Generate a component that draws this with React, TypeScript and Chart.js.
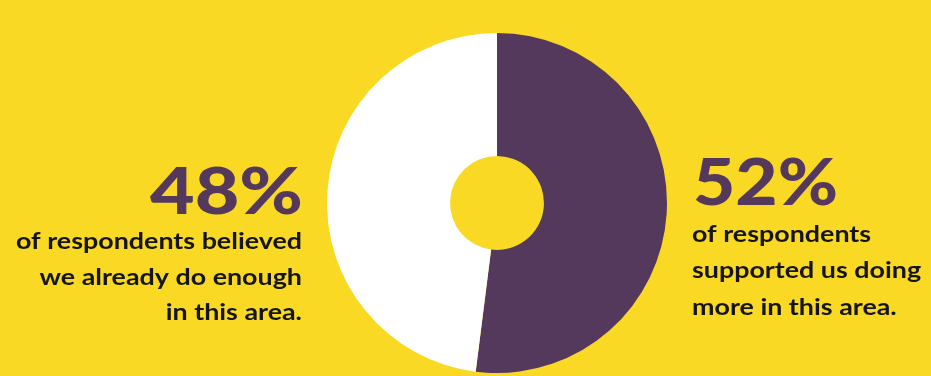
import React, { useEffect, useRef } from "react";
import { Chart, registerables } from "chart.js";

Chart.register(...registerables);

const categories = ["Supported us doing more", "Already do enough"];
const values = [52, 48];
const leftLines = ["of respondents believed", "we already do enough", "in this area."];
const rightLines = ["of respondents", "supported us doing", "more in this area."];

const YELLOW = "#F9D923";
const PURPLE = "#55395C";
const WHITE = "#FFFFFF";
const TEXT = "#151515";

function drawScaled(
  ctx: CanvasRenderingContext2D,
  text: string,
  x: number,
  y: number,
  align: CanvasTextAlign,
  sx: number
) {
  ctx.save();
  ctx.translate(x, y);
  ctx.scale(sx, 1);
  ctx.textAlign = align;
  ctx.textBaseline = "alphabetic";
  ctx.fillText(text, 0, 0);
  ctx.restore();
}

const textPlugin = {
  id: "sideText",
  beforeDraw(chart: any) {
    const ctx = chart.ctx as CanvasRenderingContext2D;
    ctx.save();
    ctx.fillStyle = YELLOW;
    ctx.fillRect(0, 0, chart.width, chart.height);
    ctx.restore();
  },
  afterDraw(chart: any) {
    const ctx = chart.ctx as CanvasRenderingContext2D;
    ctx.save();
    // headlines
    ctx.fillStyle = PURPLE;
    ctx.font = "900 64px Lato";
    const leftHead = `${values[1]}%`;
    const rightHead = `${values[0]}%`;
    const lw = ctx.measureText(leftHead).width;
    const rw = ctx.measureText(rightHead).width;
    drawScaled(ctx, leftHead, 303, 214, "right", 153 / lw);
    drawScaled(ctx, rightHead, 693, 205, "left", 145 / rw);

    // body
    ctx.fillStyle = TEXT;
    ctx.font = "bold 23px Lato";
    const base1 = ctx.measureText(leftLines[0]).width;
    const sx = 286 / base1;
    const leftBase = [249, 285, 320];
    leftLines.forEach((t, i) => drawScaled(ctx, t, 302, leftBase[i], "right", sx));
    const rightBase = [242, 278, 315];
    rightLines.forEach((t, i) => drawScaled(ctx, t, 692, rightBase[i], "left", sx));
    ctx.restore();
  },
};

export default function App() {
  const ref = useRef<HTMLCanvasElement | null>(null);
  useEffect(() => {
    document.body.style.margin = "0";
    document.body.style.background = YELLOW;
    const canvas = ref.current!;
    const chart = new Chart(canvas, {
      type: "doughnut",
      data: {
        labels: categories,
        datasets: [
          {
            data: values,
            backgroundColor: [PURPLE, WHITE],
            borderWidth: 0,
          },
        ],
      },
      options: {
        animation: false,
        responsive: false,
        maintainAspectRatio: false,
        cutout: "27.6%",
        layout: { padding: { left: 327, right: 264, top: 33, bottom: 3 } },
        plugins: {
          legend: { display: false },
          tooltip: { enabled: false },
        },
      },
      plugins: [textPlugin],
    });
    return () => chart.destroy();
  }, []);
  return (
    <div style={{ position: "fixed", left: 0, top: 0, width: 931, height: 376, background: YELLOW }}>
      <canvas ref={ref} width={931} height={376} style={{ width: 931, height: 376, display: "block" }} />
    </div>
  );
}
